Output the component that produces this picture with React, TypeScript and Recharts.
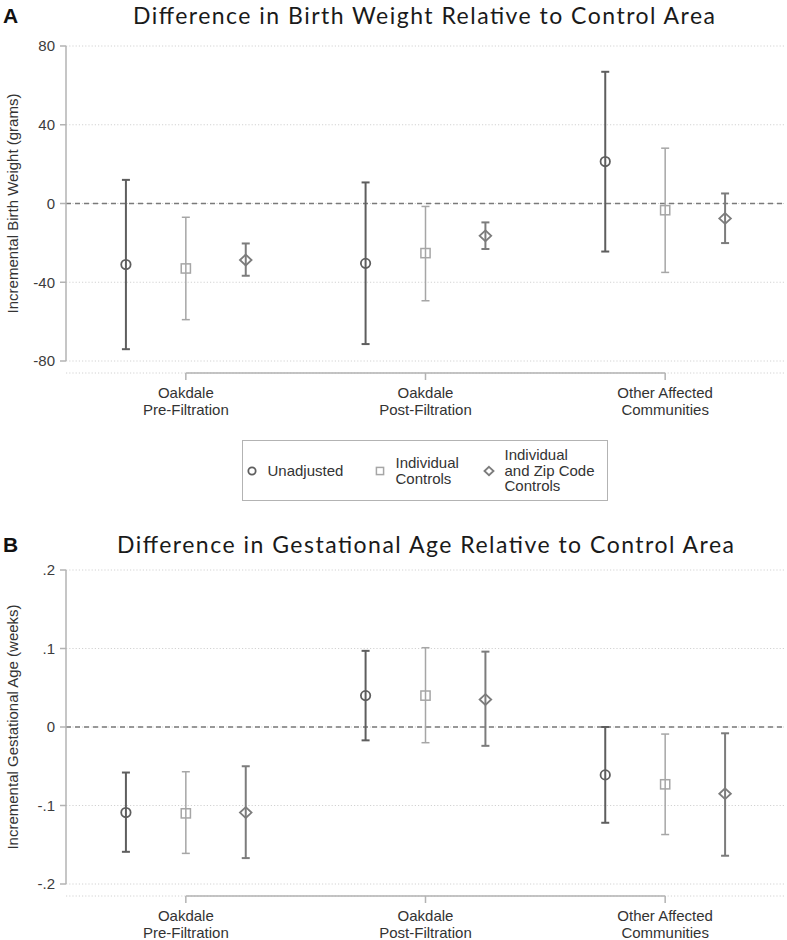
import React from 'react';
import { ScatterChart, Scatter, XAxis, YAxis, CartesianGrid, ReferenceLine, ErrorBar, Legend } from 'recharts';

const categories = ['Oakdale\nPre-Filtration', 'Oakdale\nPost-Filtration', 'Other Affected\nCommunities'];
const seriesNames = ['Unadjusted', 'Individual\nControls', 'Individual\nand Zip Code\nControls'];

// Panel A: birth weight (grams), point estimate + 95% CI
const bwTicks = [-80, -40, 0, 40, 80];
const bwUnadjusted = [-31, -30.4, 21.3];
const bwUnadjustedLo = [-74, -71.4, -24.4];
const bwUnadjustedHi = [12, 10.7, 66.9];
const bwIndividual = [-33, -25.2, -3.4];
const bwIndividualLo = [-59, -49.4, -35];
const bwIndividualHi = [-7, -1.5, 28.1];
const bwZip = [-28.7, -16.4, -7.6];
const bwZipLo = [-36.7, -23.1, -20.1];
const bwZipHi = [-20.3, -9.6, 5.1];

// Panel B: gestational age (weeks)
const gaTicks = [-0.2, -0.1, 0, 0.1, 0.2];
const gaUnadjusted = [-0.109, 0.04, -0.061];
const gaUnadjustedLo = [-0.159, -0.017, -0.122];
const gaUnadjustedHi = [-0.058, 0.097, 0.0];
const gaIndividual = [-0.11, 0.04, -0.073];
const gaIndividualLo = [-0.161, -0.02, -0.137];
const gaIndividualHi = [-0.057, 0.101, -0.009];
const gaZip = [-0.109, 0.035, -0.085];
const gaZipLo = [-0.167, -0.024, -0.164];
const gaZipHi = [-0.05, 0.096, -0.008];

// layout
const W = 787;
const Y_AXIS_W = 66;
const RIGHT = 2;
const X_DOMAIN = [-1, 11];
const GROUP_X = [1, 5, 9];
const SLOT = [-1, 0, 1];
const PLOT_W = W - Y_AXIS_W - RIGHT;
const UNIT = PLOT_W / (X_DOMAIN[1] - X_DOMAIN[0]);
const BRACKET_GAP = (GROUP_X[0] - X_DOMAIN[0]) * UNIT;
const Y_PAD = 12;

const FONT = '"Liberation Sans", Arial, sans-serif';
const AXIS_GRAY = '#b3b3b3';

const SERIES_STYLE = [
  { kind: 'circle', color: '#5e5e5e', bar: 2 },
  { kind: 'square', color: '#a6a6a6', bar: 1.5 },
  { kind: 'diamond', color: '#7c7c7c', bar: 2 },
];

const rows = (vals: number[], lo: number[], hi: number[], slot: number) =>
  vals.map((v, i) => ({ x: GROUP_X[i] + SLOT[slot], y: v, err: [v - lo[i], hi[i] - v] }));

const bwSeries = [
  rows(bwUnadjusted, bwUnadjustedLo, bwUnadjustedHi, 0),
  rows(bwIndividual, bwIndividualLo, bwIndividualHi, 1),
  rows(bwZip, bwZipLo, bwZipHi, 2),
];
const gaSeries = [
  rows(gaUnadjusted, gaUnadjustedLo, gaUnadjustedHi, 0),
  rows(gaIndividual, gaIndividualLo, gaIndividualHi, 1),
  rows(gaZip, gaZipLo, gaZipHi, 2),
];

const Marker = ({ kind, cx, cy, color, scale = 1 }: any) => {
  if (kind === 'circle') {
    return <circle cx={cx} cy={cy} r={4.7 * scale} fill="none" stroke={color} strokeWidth={1.8} />;
  }
  if (kind === 'square') {
    const h = 4.6 * scale;
    return <rect x={cx - h} y={cy - h} width={2 * h} height={2 * h} fill="none" stroke={color} strokeWidth={1.5} />;
  }
  const w = 5.8 * scale;
  const h = 5.4 * scale;
  return (
    <polygon
      points={`${cx},${cy - h} ${cx + w},${cy} ${cx},${cy + h} ${cx - w},${cy}`}
      fill="none"
      stroke={color}
      strokeWidth={1.8}
    />
  );
};

const CategoryTick = (props: any) => {
  const { x, y, payload } = props;
  const idx = GROUP_X.indexOf(payload.value);
  const lines = (categories[idx] || '').split('\n');
  return (
    <text x={x} y={y} textAnchor="middle" fill="#333" fontSize={15} fontFamily={FONT}>
      {lines.map((l, i) => (
        <tspan key={i} x={x} y={y + 18 + i * 16.5}>
          {l}
        </tspan>
      ))}
    </text>
  );
};

const yLabel = (text: string) => (props: any) => {
  const vb = props.viewBox || { y: 0, height: 0 };
  const cx = 12;
  const cy = vb.y + (vb.height - Y_PAD) / 2;
  return (
    <text
      x={cx}
      y={cy}
      transform={`rotate(-90 ${cx} ${cy})`}
      textAnchor="middle"
      dominantBaseline="central"
      fill="#333"
      fontSize={15}
      fontFamily={FONT}
    >
      {text}
    </text>
  );
};

const LEGEND_MARK_X = [10, 138, 247];

const LegendBox = ({ payload }: any) => (
  <div
    style={{
      position: 'relative',
      width: 366,
      height: 61,
      boxSizing: 'border-box',
      border: `1.5px solid ${AXIS_GRAY}`,
      fontFamily: FONT,
      fontSize: 15,
      color: '#333',
      lineHeight: '15.5px',
      background: '#fff',
    }}
  >
    {(payload || []).map((entry: any) => {
      const i = seriesNames.indexOf(entry.value);
      if (i < 0) return null;
      const st = SERIES_STYLE[i];
      return (
        <div
          key={i}
          style={{
            position: 'absolute',
            left: LEGEND_MARK_X[i] - 8.5,
            top: 0,
            height: '100%',
            display: 'flex',
            alignItems: 'center',
            gap: 9,
          }}
        >
          <svg width={14} height={14}>
            <Marker kind={st.kind} cx={7} cy={7} color={st.color} scale={0.78} />
          </svg>
          <div>
            {String(entry.value).split('\n').map((l: string, k: number) => (
              <div key={k}>{l}</div>
            ))}
          </div>
        </div>
      );
    })}
  </div>
);

const Panel = (p: any) => {
  const plotH = p.height - p.marginTop - p.marginBottom - p.xAxisH;
  const ticks: number[] = p.ticks;
  return (
    <div style={{ position: 'absolute', left: 0, top: p.top, width: W, height: p.height }}>
      <ScatterChart
        width={W}
        height={p.height}
        margin={{ top: p.marginTop, right: RIGHT, bottom: p.marginBottom, left: 0 }}
      >
        <CartesianGrid vertical={false} stroke="#d2d2d2" strokeDasharray="1.2 2" />
        <XAxis
          type="number"
          dataKey="x"
          domain={X_DOMAIN}
          ticks={GROUP_X}
          interval={0}
          height={p.xAxisH}
          axisLine={{
            stroke: AXIS_GRAY,
            strokeWidth: 1.5,
            strokeDasharray: `0 ${BRACKET_GAP} ${PLOT_W - 2 * BRACKET_GAP} ${BRACKET_GAP}`,
          }}
          tickLine={{ stroke: AXIS_GRAY, strokeWidth: 1.5 }}
          tickSize={7}
          tickMargin={0}
          tick={<CategoryTick />}
        />
        <YAxis
          type="number"
          dataKey="y"
          domain={[ticks[0], ticks[ticks.length - 1]]}
          ticks={ticks}
          interval={0}
          width={Y_AXIS_W}
          padding={{ top: 0, bottom: Y_PAD }}
          axisLine={{ stroke: AXIS_GRAY, strokeWidth: 1.5, strokeDasharray: `${plotH - Y_PAD} ${Y_PAD}` }}
          tickLine={{ stroke: AXIS_GRAY, strokeWidth: 1.5 }}
          tickSize={6}
          tickMargin={5}
          tick={{ fill: '#3c3c3c', fontSize: 15, fontFamily: FONT }}
          tickFormatter={p.fmt}
          label={{ value: p.yLabel, content: yLabel(p.yLabel) }}
        />
        <ReferenceLine y={0} stroke="#7a7a7a" strokeWidth={1.5} strokeDasharray="5 4" />
        {p.series.map((data: any[], i: number) => (
          <Scatter
            key={i}
            name={seriesNames[i]}
            data={data}
            isAnimationActive={false}
            shape={(s: any) => <Marker kind={SERIES_STYLE[i].kind} cx={s.cx} cy={s.cy} color={SERIES_STYLE[i].color} />}
          >
            <ErrorBar
              dataKey="err"
              direction="y"
              width={4}
              stroke={SERIES_STYLE[i].color}
              strokeWidth={SERIES_STYLE[i].bar}
              isAnimationActive={false}
            />
          </Scatter>
        ))}
        {p.legend && (
          <Legend
            layout="vertical"
            align="center"
            verticalAlign="middle"
            wrapperStyle={{ left: 242, top: 440, width: 366, height: 61 }}
            content={<LegendBox />}
          />
        )}
      </ScatterChart>
      <svg
        width={W}
        height={70}
        style={{ position: 'absolute', left: 0, top: 0, pointerEvents: 'none' }}
      >
        <text x={3} y={p.titleY} fontFamily={FONT} fontWeight="bold" fontSize={21} fill="#111">
          {p.letter}
        </text>
        <text
          x={p.titleX}
          y={p.titleY + 1}
          textAnchor="middle"
          fontFamily="Lato, 'Open Sans', sans-serif"
          fontSize={23}
          textLength={p.titleW}
          lengthAdjust="spacing"
          fill="#1a1a1a"
        >
          {p.title}
        </text>
      </svg>
    </div>
  );
};

const fmtWeeks = (v: number) => (v === 0 ? '0' : String(v).replace('0.', '.'));

export default function App() {
  return (
    <div style={{ position: 'absolute', left: 0, top: 0, width: W, height: 940, background: '#fff' }}>
      <Panel
        top={0}
        height={510}
        marginTop={46}
        marginBottom={80}
        xAxisH={57}
        letter="A"
        title="Difference in Birth Weight Relative to Control Area"
        titleX={424}
        titleW={582}
        titleY={23}
        yLabel="Incremental Birth Weight (grams)"
        ticks={bwTicks}
        fmt={(v: number) => String(v)}
        series={bwSeries}
        legend
      />
      <Panel
        top={500}
        height={440}
        marginTop={70}
        marginBottom={0}
        xAxisH={44}
        letter="B"
        title="Difference in Gestational Age Relative to Control Area"
        titleX={425.5}
        titleW={617}
        titleY={52}
        yLabel="Incremental Gestational Age (weeks)"
        ticks={gaTicks}
        fmt={fmtWeeks}
        series={gaSeries}
      />
    </div>
  );
}
